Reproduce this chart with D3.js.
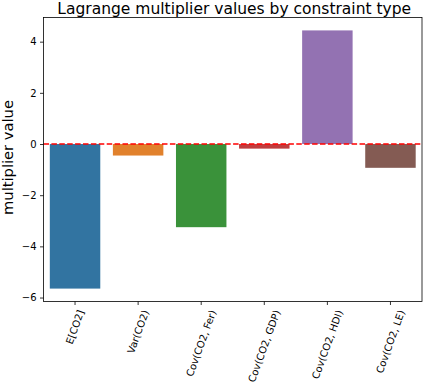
<!DOCTYPE html>
<html>
<head>
<meta charset="utf-8">
<script src="https://cdn.jsdelivr.net/npm/d3@7"></script>
<style>
  body { margin: 0; background: #fff; }
  svg { font-family: "DejaVu Sans", sans-serif; }
</style>
</head>
<body>
<svg id="chart" width="426" height="388"></svg>
<script>
// constraint types and their multiplier values
const categories = ['E[CO2]', 'Var(CO2)', 'Cov(CO2, Fer)', 'Cov(CO2, GDP)', 'Cov(CO2, HDI)', 'Cov(CO2, LE)'];
const values = [-5.65, -0.45, -3.25, -0.18, 4.44, -0.93];
const barColors = ['#3274a1', '#e1812c', '#3a923a', '#c03d3e', '#9372b2', '#845b53'];
const yTicks = [-6, -4, -2, 0, 2, 4];

const svg = d3.select('svg#chart');
const margin = { top: 17.5, right: 4, bottom: 86.5, left: 43.5 };
const width = 426, height = 388;

// matplotlib-style 5% padding around the data range
const lo = d3.min(values), hi = d3.max(values);
const pad = (hi - lo) * 0.05;

const x = d3.scaleBand()
  .domain(categories)
  .range([margin.left, width - margin.right])
  .paddingInner(0.2)
  .paddingOuter(0.1);

const y = d3.scaleLinear()
  .domain([lo - pad, hi + pad])
  .range([height - margin.bottom, margin.top]);

// bars
svg.append('g')
  .selectAll('rect')
  .data(values)
  .enter()
  .append('rect')
  .attr('x', (d, i) => x(categories[i]))
  .attr('width', x.bandwidth())
  .attr('y', d => y(Math.max(0, d)))
  .attr('height', d => Math.abs(y(d) - y(0)))
  .attr('fill', (d, i) => barColors[i]);

// dashed zero line
svg.append('line')
  .attr('x1', margin.left)
  .attr('x2', width - margin.right)
  .attr('y1', y(0))
  .attr('y2', y(0))
  .attr('stroke', 'red')
  .attr('stroke-width', 1.5)
  .attr('stroke-dasharray', '5.5,2.4');

// y axis
const yAxis = svg.append('g')
  .attr('transform', `translate(${margin.left},0)`)
  .call(d3.axisLeft(y).tickValues(yTicks).tickSize(3.5).tickPadding(3.5)
    .tickFormat(d => d3.format('d')(d).replace('-', '\u2212')));
yAxis.select('.domain').remove();
yAxis.selectAll('text').attr('font-size', 10).attr('font-family', 'DejaVu Sans').attr('fill', '#000');
yAxis.selectAll('line').attr('stroke', '#000').attr('stroke-width', 0.8);

// x axis ticks
const xAxis = svg.append('g')
  .attr('transform', `translate(0,${height - margin.bottom})`)
  .call(d3.axisBottom(x).tickSize(3.5).tickFormat(''));
xAxis.select('.domain').remove();
xAxis.selectAll('line').attr('stroke', '#000').attr('stroke-width', 0.8);

// rotated x labels, box centred under each tick
const labelTop = height - margin.bottom + 7;
categories.forEach(c => {
  const g = svg.append('g');
  const t = g.append('text')
    .attr('font-size', 10)
    .attr('transform', 'rotate(-70)')
    .attr('text-anchor', 'end')
    .text(c);
  const b = g.node().getBBox();
  const cx = x(c) + x.bandwidth() / 2;
  g.attr('transform', `translate(${cx - (b.x + b.width / 2)},${labelTop - b.y})`);
});

// frame
svg.append('rect')
  .attr('x', margin.left)
  .attr('y', margin.top)
  .attr('width', width - margin.left - margin.right)
  .attr('height', height - margin.top - margin.bottom)
  .attr('fill', 'none')
  .attr('stroke', '#000')
  .attr('stroke-width', 0.8);

// title and y label
svg.append('text')
  .attr('x', (margin.left + width - margin.right) / 2 + 1.5)
  .attr('y', 14.3)
  .attr('text-anchor', 'middle')
  .attr('font-size', 15.5)
  .text('Lagrange multiplier values by constraint type');

svg.append('text')
  .attr('transform', `translate(13,157.5) rotate(-90)`)
  .attr('text-anchor', 'middle')
  .attr('font-size', 14.7)
  .text('multiplier value');
</script>
</body>
</html>
